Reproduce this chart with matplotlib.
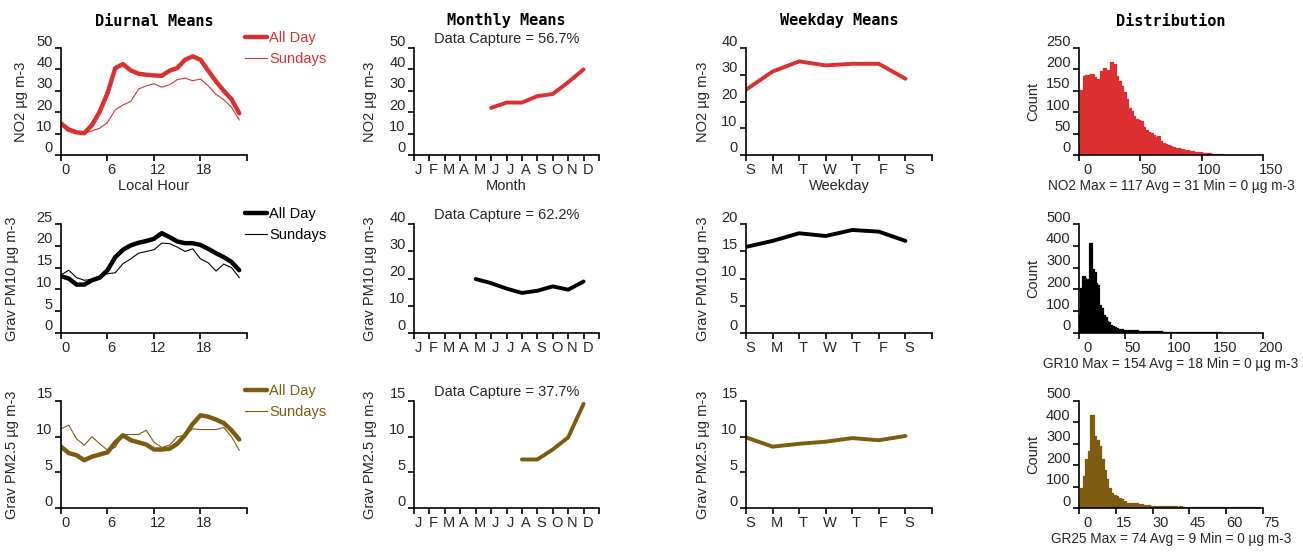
"""Summary panels (diurnal / monthly / weekday / distribution) for NO2, PM10 and PM2.5."""
import numpy as np
import matplotlib
matplotlib.use("Agg")
import matplotlib.pyplot as plt
from matplotlib.transforms import ScaledTranslation

plt.rcParams["font.family"] = ["Liberation Sans", "DejaVu Sans"]

RED = "#dc3030"
BLACK = "#000000"
BROWN = "#7d5b0f"

# ---- data -------------------------------------------------------------
hours = list(range(24))
no2_hour_all = [14.8, 11.7, 10.6, 10.2, 14.0, 20.3, 28.9, 40.6, 42.5, 39.5, 38.0, 37.5,
                37.2, 37.0, 39.4, 40.6, 44.5, 46.1, 44.5, 39.4, 34.4, 30.0, 26.1, 19.5]
no2_hour_sun = [15.2, 12.8, 11.3, 10.2, 11.3, 12.5, 15.2, 21.1, 23.4, 25.0, 30.8, 32.3,
                33.3, 31.7, 32.8, 35.2, 35.9, 34.7, 35.5, 32.3, 28.4, 25.8, 22.3, 16.4]
pm10_hour_all = [13.0, 12.5, 11.1, 11.1, 12.1, 12.7, 14.4, 17.4, 19.1, 20.1, 20.7, 21.1,
                 21.6, 22.9, 22.0, 21.0, 20.6, 20.6, 20.2, 19.3, 18.3, 17.4, 16.3, 14.4]
pm10_hour_sun = [13.3, 14.4, 12.7, 12.1, 12.3, 13.0, 13.6, 13.8, 15.9, 17.0, 18.3, 18.7,
                 19.1, 20.6, 20.5, 19.7, 18.7, 19.3, 17.0, 16.1, 14.2, 15.8, 15.0, 12.7]
pm25_hour_all = [8.6, 7.7, 7.4, 6.7, 7.2, 7.5, 7.8, 9.2, 10.2, 9.5, 9.2, 8.9,
                 8.2, 8.2, 8.3, 9.0, 10.2, 11.8, 13.0, 12.8, 12.4, 11.9, 10.9, 9.6]
pm25_hour_sun = [11.1, 11.6, 9.7, 8.8, 10.0, 9.0, 8.1, 8.5, 10.3, 10.3, 10.3, 10.9,
                 9.2, 8.5, 8.8, 10.0, 10.2, 11.1, 11.0, 11.0, 11.0, 11.3, 10.0, 8.1]

month_labels = ["J", "F", "M", "A", "M", "J", "J", "A", "S", "O", "N", "D", ""]
no2_month_idx = [5, 6, 7, 8, 9, 10, 11]
no2_month = [22.0, 24.5, 24.5, 27.5, 28.5, 34.0, 40.0]
pm10_month_idx = [4, 5, 6, 7, 8, 9, 10, 11]
pm10_month = [19.8, 18.3, 16.3, 14.7, 15.5, 17.1, 15.9, 18.9]
pm25_month_idx = [7, 8, 9, 10, 11]
pm25_month = [6.8, 6.8, 8.2, 9.9, 14.6]
capture = ["Data Capture = 56.7%", "Data Capture = 62.2%", "Data Capture = 37.7%"]

day_labels = ["S", "M", "T", "W", "T", "F", "S", ""]
days = list(range(7))
no2_day = [24.4, 31.2, 35.0, 33.5, 34.1, 34.1, 28.5]
pm10_day = [15.8, 16.9, 18.3, 17.8, 18.9, 18.6, 16.9]
pm25_day = [9.9, 8.6, 9.0, 9.3, 9.8, 9.5, 10.1]

no2_hist_width = 2
no2_hist = [20, 150, 183, 185, 182, 186, 180, 176, 168, 195, 200, 190, 196, 215, 210,
            182, 170, 158, 146, 128, 108, 100, 88, 82, 80, 76, 62, 57, 52, 50,
            44, 40, 42, 30, 26, 24, 22, 19, 16, 15, 13, 12, 11, 10, 9,
            8, 6, 5, 5, 4, 3, 3, 2, 2, 1, 1, 1, 0, 1]
pm10_hist_width = 2
pm10_hist = [80, 200, 255, 250, 240, 245, 410, 290, 275, 225, 215, 125, 110, 80, 70,
             50, 45, 30, 27, 24, 18, 15, 14, 12, 11, 10, 9, 8, 7, 8,
             6, 7, 5, 6, 4, 5, 4, 3, 5, 3, 4, 2, 3, 2, 3,
             1, 0, 0, 1, 0, 2, 0, 0, 0, 2, 0, 0, 0, 1, 0,
             0, 0, 0, 0, 0, 0, 0, 0, 0, 0, 0, 0, 0, 0, 0,
             0, 1, 1]
pm25_hist_width = 1
pm25_hist = [15, 90, 145, 225, 260, 430, 330, 315, 285, 225, 175, 130, 90, 65, 55,
             50, 42, 38, 27, 20, 18, 20, 16, 18, 14, 12, 11, 10, 9, 7,
             6, 5, 6, 5, 4, 5, 3, 4, 3, 3, 2, 3, 2, 2, 1,
             2, 1, 1, 2, 1, 1, 0, 1, 0, 1, 1, 0, 0, 0, 0,
             0, 0, 0, 0, 0, 0, 0, 0, 0, 0, 0, 0, 0, 1]

species = [
    dict(color=RED, ylab="NO2 µg m-3", hour=(no2_hour_all, no2_hour_sun), hour_lim=50, hour_step=10,
         month=(no2_month_idx, no2_month), month_lim=50, month_step=10,
         day=no2_day, day_lim=40, day_step=10,
         hist=no2_hist, hist_w=no2_hist_width, hist_ylim=250, hist_ystep=50, hist_xlim=150, hist_xstep=50,
         hist_lab="NO2 Max = 117 Avg = 31 Min = 0 µg m-3"),
    dict(color=BLACK, ylab="Grav PM10 µg m-3", hour=(pm10_hour_all, pm10_hour_sun), hour_lim=25, hour_step=5,
         month=(pm10_month_idx, pm10_month), month_lim=40, month_step=10,
         day=pm10_day, day_lim=20, day_step=5,
         hist=pm10_hist, hist_w=pm10_hist_width, hist_ylim=500, hist_ystep=100, hist_xlim=200, hist_xstep=50,
         hist_lab="GR10 Max = 154 Avg = 18 Min = 0 µg m-3"),
    dict(color=BROWN, ylab="Grav PM2.5 µg m-3", hour=(pm25_hour_all, pm25_hour_sun), hour_lim=15, hour_step=5,
         month=(pm25_month_idx, pm25_month), month_lim=15, month_step=5,
         day=pm25_day, day_lim=15, day_step=5,
         hist=pm25_hist, hist_w=pm25_hist_width, hist_ylim=500, hist_ystep=100, hist_xlim=75, hist_xstep=15,
         hist_lab="GR25 Max = 74 Avg = 9 Min = 0 µg m-3"),
]

# ---- layout -----------------------------------------------------------
W, H = 1303, 552
fig = plt.figure(figsize=(W / 100, H / 100), dpi=100)
col_left = [61, 414, 746, 1079]
col_width = [186, 185, 186, 184]
row_top = [48, 224, 401]
row_height = [107, 109, 107]
TXT = "#262626"
FS = 10.5


def add_axes(col, row):
    l, t = col_left[col], row_top[row]
    w, h = col_width[col], row_height[row]
    return fig.add_axes([l / W, 1 - (t + h) / H, w / W, h / H])


def style(ax, ymax, ystep, xlim, xticks, xlabels, xshift=4):
    for s in ("top", "right"):
        ax.spines[s].set_visible(False)
    for s in ("left", "bottom"):
        ax.spines[s].set_linewidth(1.2)
    ax.set_ylim(0, ymax)
    ax.set_xlim(*xlim)
    ax.set_yticks(np.arange(0, ymax + ystep / 2, ystep))
    ax.set_xticks(xticks)
    ax.set_xticklabels(xlabels)
    ax.tick_params(direction="out", length=4, width=1.2, labelsize=FS,
                   labelcolor=TXT, pad=2)
    up = ScaledTranslation(0, 8 / 100, fig.dpi_scale_trans)
    right = ScaledTranslation(xshift / 100, 0, fig.dpi_scale_trans)
    for lab in ax.get_yticklabels():
        lab.set_transform(lab.get_transform() + up)
    for lab in ax.get_xticklabels():
        lab.set_transform(lab.get_transform() + right)


def set_ylab(ax, text, x):
    ax.set_ylabel(text, fontsize=FS, color=TXT)
    ax.yaxis.set_label_coords(x, 0.5)


title_kw = dict(family="DejaVu Sans Mono", weight="bold", fontsize=11, ha="center", va="center")
for col, name in enumerate(["Diurnal Means", "Monthly Means", "Weekday Means", "Distribution"]):
    cx = (col_left[col] + col_width[col] / 2) / W
    fig.text(cx, 1 - 21 / H, name, **title_kw)

for row, sp in enumerate(species):
    c = sp["color"]

    # diurnal
    ax = add_axes(0, row)
    ax.plot(hours, sp["hour"][0], color=c, lw=3.2, solid_capstyle="round", label="All Day")
    ax.plot(hours, sp["hour"][1], color=c, lw=0.8, label="Sundays")
    style(ax, sp["hour_lim"], sp["hour_step"], (0, 24), [0, 6, 12, 18, 24], ["0", "6", "12", "18", ""])
    set_ylab(ax, sp["ylab"], -0.18 if row == 0 else -0.225)
    ax.legend(loc="upper left", bbox_to_anchor=(0.99, 1.155), frameon=False,
              borderaxespad=0, borderpad=0, handlelength=1.5, handletextpad=0.15,
              labelspacing=0.45, fontsize=FS, labelcolor=c)
    if row == 0:
        ax.set_xlabel("Local Hour", fontsize=FS, color=TXT, labelpad=1)

    # monthly
    ax = add_axes(1, row)
    ax.plot(sp["month"][0], sp["month"][1], color=c, lw=2.8, solid_capstyle="round")
    style(ax, sp["month_lim"], sp["month_step"], (0, 12), range(13), month_labels)
    set_ylab(ax, sp["ylab"], -0.2)
    ax.text(0.5, 1.02, capture[row], transform=ax.transAxes, ha="center", va="bottom",
            fontsize=FS, color=TXT)
    if row == 0:
        ax.set_xlabel("Month", fontsize=FS, color=TXT, labelpad=1)

    # weekday
    ax = add_axes(2, row)
    ax.plot(days, sp["day"], color=c, lw=2.8, solid_capstyle="round")
    style(ax, sp["day_lim"], sp["day_step"], (0, 7), range(8), day_labels)
    set_ylab(ax, sp["ylab"], -0.195)
    if row == 0:
        ax.set_xlabel("Weekday", fontsize=FS, color=TXT, labelpad=1)

    # distribution
    ax = add_axes(3, row)
    counts = np.array(sp["hist"])
    edges = np.arange(len(counts) + 1) * sp["hist_w"]
    ax.stairs(counts, edges, fill=True, color=c, lw=0)
    ax.stairs(counts, edges, color=c, lw=1.6)
    xt = np.arange(0, sp["hist_xlim"] + 1, sp["hist_xstep"])
    style(ax, sp["hist_ylim"], sp["hist_ystep"], (0, sp["hist_xlim"]), xt,
          [str(v) for v in xt], xshift=8)
    set_ylab(ax, "Count", -0.21)
    ax.set_xlabel(sp["hist_lab"], fontsize=9.8, color=TXT, labelpad=1)

fig.savefig("out.png", dpi=100, facecolor="white")
